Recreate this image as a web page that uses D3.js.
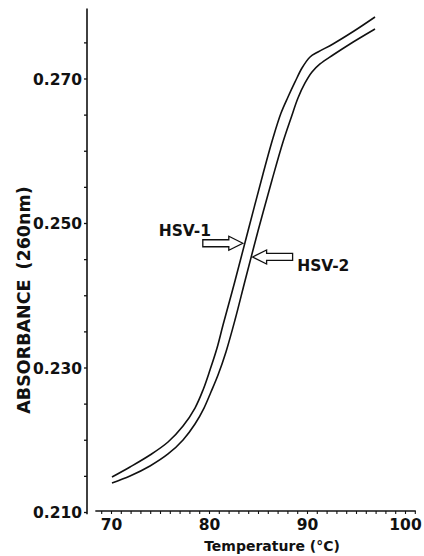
<!DOCTYPE html>
<html>
<head>
<meta charset="utf-8">
<script src="https://cdn.jsdelivr.net/npm/d3@7"></script>
<style>
  html, body { margin: 0; padding: 0; background: #fff; }
  svg text { font-family: "DejaVu Sans", sans-serif; font-weight: bold; fill: #111; }
</style>
</head>
<body>
<svg id="chart" width="424" height="556"></svg>
<script>
// ---- data ----
const hsv1Temp = [70.10, 71.94, 73.98, 75.82, 77.35, 78.57, 79.39, 80.10, 80.82, 81.43, 82.65, 83.98, 85.51, 86.53, 87.35, 88.06, 88.78, 89.49, 90.31, 91.12, 92.65, 94.80, 96.94];
const hsv1Abs  = [0.21484, 0.21623, 0.21789, 0.21969, 0.22190, 0.22439, 0.22689, 0.22965, 0.23270, 0.23588, 0.24197, 0.24889, 0.25678, 0.26176, 0.26522, 0.26744, 0.26952, 0.27145, 0.27298, 0.27367, 0.27478, 0.27657, 0.27851];
const hsv2Temp = [70.10, 71.94, 73.98, 75.82, 77.35, 78.57, 79.49, 80.20, 80.92, 81.73, 82.65, 83.67, 85.00, 86.43, 87.55, 88.37, 89.08, 89.80, 90.51, 91.33, 92.65, 94.39, 96.94];
const hsv2Abs  = [0.21401, 0.21498, 0.21637, 0.21803, 0.21997, 0.22218, 0.22439, 0.22661, 0.22896, 0.23215, 0.23657, 0.24197, 0.24889, 0.25595, 0.26121, 0.26453, 0.26730, 0.26938, 0.27090, 0.27201, 0.27325, 0.27478, 0.27685];
const xTickLabels = [70, 80, 90, 100];
const yTickLabels = ["0.210", "0.230", "0.250", "0.270"];
const seriesNames = ["HSV-1", "HSV-2"];
const yTitleMain = "ABSORBANCE";
const yTitleUnit = "(260nm)";
const xTitle = "Temperature (°C)";

// ---- layout ----
const svg = d3.select("#chart");
const x = d3.scaleLinear().domain([70, 100]).range([111, 405]);
const y = d3.scaleLinear().domain([0.210, 0.270]).range([512, 78.5]);

// y axis
const yAxis = d3.axisLeft(y)
  .tickValues(d3.range(0, 14).map(i => +(0.210 + i * 0.005).toFixed(3)))
  .tickSize(3)
  .tickFormat(d => yTickLabels.includes(d.toFixed(3)) ? d.toFixed(3) : "");
const gy = svg.append("g").attr("transform", "translate(87,0)").call(yAxis);
gy.select(".domain").remove();
gy.append("line").attr("x1", 0).attr("x2", 0).attr("y1", y(0.2797)).attr("y2", y(0.2097))
  .attr("stroke", "#111").attr("stroke-width", 1.6);
gy.selectAll(".tick line").attr("stroke", "#111").attr("stroke-width", 1.3);
gy.selectAll(".tick text").attr("x", -5).attr("dy", "0.36em")
  .style("font-size", "15.5px").style("font-family", "DejaVu Sans").style("font-weight", "bold").attr("fill", "#111");

// x axis
const xAxis = d3.axisBottom(x)
  .tickValues(d3.range(69, 102))
  .tickSize(3)
  .tickFormat(d => xTickLabels.includes(d) ? d : "");
const gx = svg.append("g").attr("transform", "translate(0,511)").call(xAxis);
gx.select(".domain").remove();
gx.append("line").attr("x1", x(68.4)).attr("x2", x(101.1)).attr("y1", 0).attr("y2", 0)
  .attr("stroke", "#111").attr("stroke-width", 1.6);
gx.selectAll(".tick line").attr("stroke", "#111").attr("stroke-width", 1.1);
gx.selectAll(".tick text").attr("y", 8).attr("dy", "0.71em")
  .style("font-size", "15.5px").style("font-family", "DejaVu Sans").style("font-weight", "bold").attr("fill", "#111");

// titles
const yt = svg.append("text")
  .attr("transform", "translate(30,300) rotate(-90)")
  .attr("text-anchor", "middle")
  .style("font-size", "17.5px");
yt.append("tspan").text(yTitleMain);
yt.append("tspan").attr("dx", 10).text(yTitleUnit);

svg.append("text").attr("x", 272).attr("y", 551).attr("text-anchor", "middle")
  .style("font-size", "14px").text(xTitle);

// curves
const line = d3.line().x(d => x(d[0])).y(d => y(d[1])).curve(d3.curveCatmullRom.alpha(0.5));
const s1 = hsv1Temp.map((t, i) => [t, hsv1Abs[i]]);
const s2 = hsv2Temp.map((t, i) => [t, hsv2Abs[i]]);
[s1, s2].forEach(s => {
  svg.append("path").datum(s).attr("d", line)
    .attr("fill", "none").attr("stroke", "#111").attr("stroke-width", 1.6)
    .attr("stroke-linejoin", "round");
});

// block arrows
function blockArrow(tipX, tipY, dir) {
  const L = 40, head = 14, hh = 7, sh = 3.5;
  const pts = [
    [0, 0], [head, -hh], [head, -sh], [L, -sh], [L, sh], [head, sh], [head, hh]
  ].map(p => [tipX + dir * p[0], tipY + p[1]]);
  svg.append("polygon").attr("points", pts.map(p => p.join(",")).join(" "))
    .attr("fill", "#fff").attr("stroke", "#111").attr("stroke-width", 1.3)
    .attr("stroke-linejoin", "miter");
}
// HSV-1: arrow pointing right to the upper curve
blockArrow(x(83.45), y(0.2472), -1);
svg.append("text").attr("x", x(80.2)).attr("y", y(0.2482)).attr("text-anchor", "end")
  .style("font-size", "15.5px").text(seriesNames[0]);
// HSV-2: arrow pointing left to the lower curve
blockArrow(x(84.45), y(0.2453), 1);
svg.append("text").attr("x", x(89.0)).attr("y", y(0.2434)).attr("text-anchor", "start")
  .style("font-size", "15.5px").text(seriesNames[1]);
</script>
</body>
</html>
